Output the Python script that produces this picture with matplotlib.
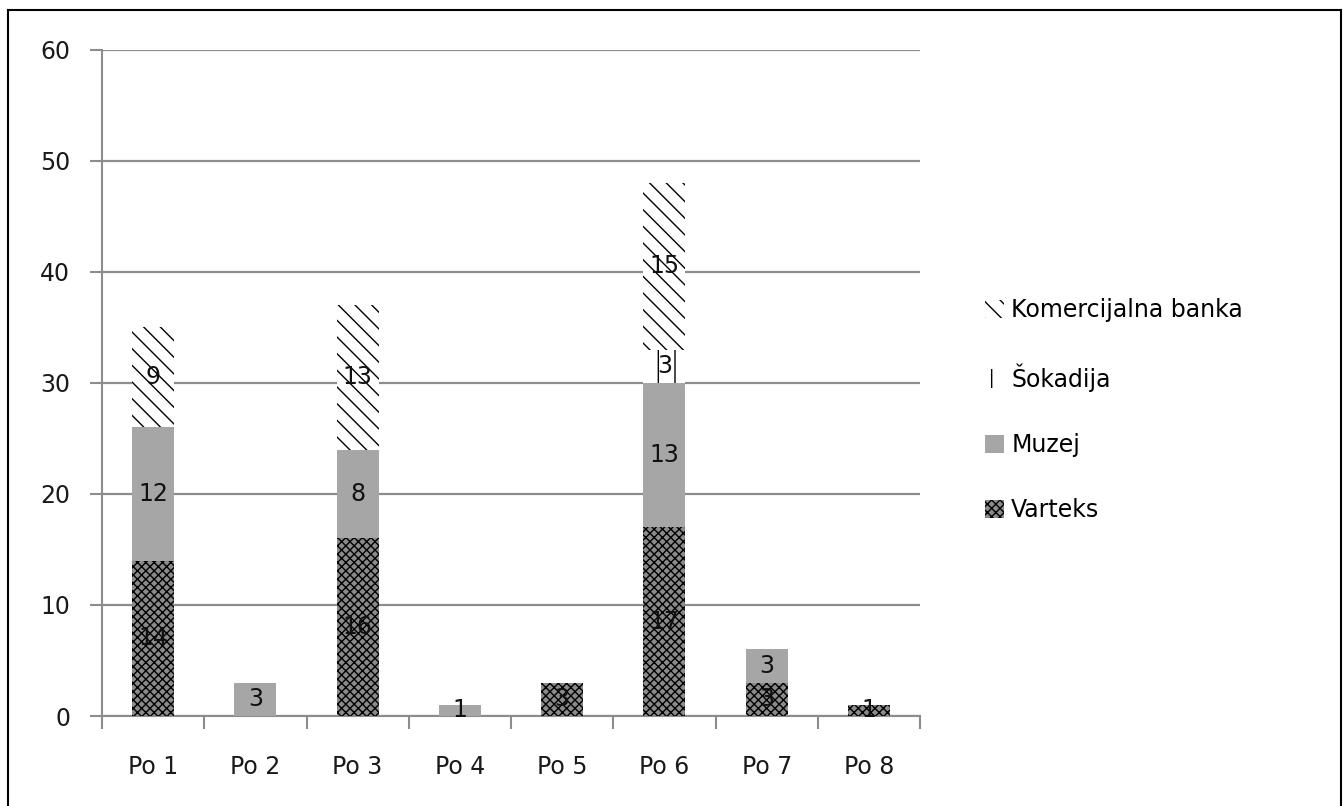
import numpy as np
import matplotlib.pyplot as plt
from matplotlib.lines import Line2D

categories = ["Po 1", "Po 2", "Po 3", "Po 4", "Po 5", "Po 6", "Po 7", "Po 8"]
varteks = [14, 0, 16, 0, 3, 17, 3, 1]
muzej = [12, 3, 8, 1, 0, 13, 3, 0]
sokadija = [0, 0, 0, 0, 0, 3, 0, 0]
komercijalna = [9, 0, 13, 0, 0, 15, 0, 0]

plt.rcParams['font.family'] = ['DejaVu Sans']
plt.rcParams['hatch.linewidth'] = 1.0

fig = plt.figure(figsize=(13.43, 8.06), dpi=100)
ax = fig.add_axes([102 / 1343, 1 - 716 / 806, (920 - 102) / 1343, (716 - 50) / 806])

x = np.arange(len(categories))
w = 0.41
grey = '#8c8c8c'

series = [
    ("Varteks", varteks, dict(facecolor='#8a8a8a', edgecolor='black', hatch='xxxx')),
    ("Muzej", muzej, dict(facecolor='#a6a6a6', edgecolor='#a6a6a6', hatch=None)),
    ("Šokadija", sokadija, dict(facecolor='white', edgecolor='black', hatch='|')),
    ("Komercijalna banka", komercijalna, dict(facecolor='white', edgecolor='black', hatch='\\\\')),
]

bottom = np.zeros(len(categories))
handles = []
for name, vals, style in series:
    vals = np.array(vals, dtype=float)
    bars = ax.bar(x, vals, w, bottom=bottom, linewidth=0, label=name, zorder=3, **style)
    labels = [str(int(v)) if v > 0 else "" for v in vals]
    ax.bar_label(bars, labels=labels, label_type='center', fontsize=17, color='#111111', zorder=4)
    bottom += vals
    handles.append(bars)

ax.set_xlim(-0.5, len(categories) - 0.5)
ax.set_ylim(0, 60)
ax.set_yticks(range(0, 61, 10))
ax.yaxis.grid(True, color=grey, linewidth=1.6, zorder=0)
ax.set_axisbelow(True)

ax.set_xticks(x)
ax.set_xticklabels(categories)
ax.set_xticks(np.arange(-0.5, len(categories)), minor=True)
ax.tick_params(axis='x', which='major', length=0, pad=28, labelsize=17, colors='#1a1a1a')
ax.tick_params(axis='x', which='minor', length=9, width=1.5, color=grey)
ax.tick_params(axis='y', length=9, width=1.5, color=grey, pad=14, labelsize=17, labelcolor='#1a1a1a')

for s in ['top', 'right']:
    ax.spines[s].set_visible(False)
for s in ['left', 'bottom']:
    ax.spines[s].set_color(grey)
    ax.spines[s].set_linewidth(1.5)

leg = fig.legend(handles[::-1], [s[0] for s in series][::-1],
                 loc='center left', bbox_to_anchor=(964 / 1343, 1 - 410 / 806),
                 frameon=False, fontsize=17, handlelength=0.8, handleheight=0.8,
                 handletextpad=0.3, labelspacing=1.74)

# outer frame
fx0, fx1, fy1 = 8 / 1343, 1341 / 1343, 1 - 10 / 806
fig.add_artist(Line2D([fx0, fx0], [0, fy1], color='black', linewidth=1.5, transform=fig.transFigure))
fig.add_artist(Line2D([fx0, fx1], [fy1, fy1], color='black', linewidth=1.5, transform=fig.transFigure))
fig.add_artist(Line2D([fx1, fx1], [0, fy1], color='black', linewidth=1.5, transform=fig.transFigure))

fig.savefig("out.png", dpi=100, facecolor='white')
